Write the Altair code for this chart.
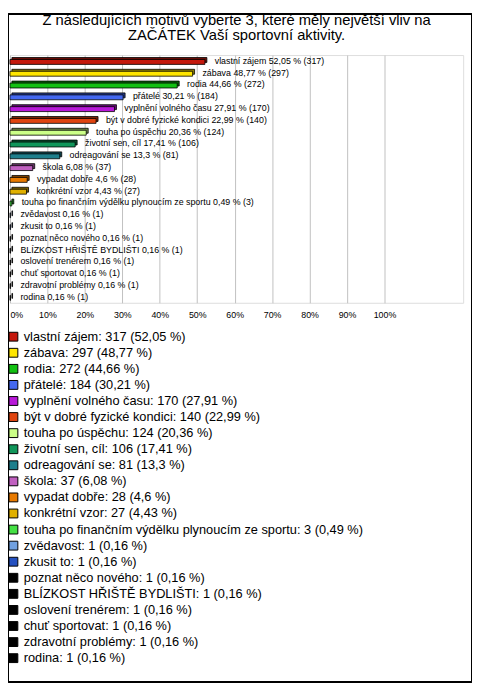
import altair as alt
import pandas as pd

# ---- data ----
categories = [
    "vlastní zájem", "zábava", "rodia", "přátelé", "vyplnění volného času",
    "být v dobré fyzické kondici", "touha po úspěchu", "životní sen, cíl",
    "odreagování se", "škola", "vypadat dobře", "konkrétní vzor",
    "touha po finančním výdělku plynoucím ze sportu", "zvědavost", "zkusit to",
    "poznat něco nového", "BLÍZKOST HŘIŠTĚ BYDLIŠTI", "oslovení trenérem",
    "chuť sportovat", "zdravotní problémy", "rodina",
]
counts = [317, 297, 272, 184, 170, 140, 124, 106, 81, 37, 28, 27, 3, 1, 1, 1, 1, 1, 1, 1, 1]
percents = [52.05, 48.77, 44.66, 30.21, 27.91, 22.99, 20.36, 17.41, 13.3, 6.08, 4.6, 4.43,
            0.49, 0.16, 0.16, 0.16, 0.16, 0.16, 0.16, 0.16, 0.16]
colors = [
    "#c4180c", "#ffe600", "#12c012", "#4468f0", "#b818d8", "#e04410", "#ccff88",
    "#10965a", "#1e7f8c", "#c060c0", "#e87a00", "#e0b000", "#44e044", "#70a0e0",
    "#2450c0", "#000000", "#000000", "#000000", "#000000", "#000000", "#000000",
]
x_ticks = [0, 10, 20, 30, 40, 50, 60, 70, 80, 90, 100]
title_lines = [
    "Z následujících motivů vyberte 3, které měly největší vliv na",
    "ZAČÁTEK Vaší sportovní aktivity.",
]


def darker(hex_color, f=0.55):
    h = hex_color.lstrip("#")
    r, g, b = (int(h[i:i + 2], 16) for i in (0, 2, 4))
    return "#{:02x}{:02x}{:02x}".format(int(r * f), int(g * f), int(b * f))


pct_str = [str(p).replace(".", ",") for p in percents]
df = pd.DataFrame({
    "cat": categories,
    "count": counts,
    "pct": percents,
    "bar_label": [f"{c} {p} % ({n})" for c, p, n in zip(categories, pct_str, counts)],
    "legend_label": [f"{c}: {n} ({p} %)" for c, p, n in zip(categories, pct_str, counts)],
    "dark": [darker(c) for c in colors],
})
legend_labels = list(df["legend_label"])

FONT = "Liberation Sans"

x_enc = alt.X(
    "pct:Q",
    scale=alt.Scale(domain=[0, 121], nice=False, zero=True),
    axis=alt.Axis(
        values=x_ticks, title=None, grid=True, gridColor="#c0c0c0", gridWidth=1,
        domain=False, ticks=False, labelPadding=8, labelFontSize=9, labelFont=FONT,
        labelColor="#000", labelExpr="datum.value + '%'", labelFlush=True,
    ),
)
y_enc = alt.Y("cat:N", sort=categories, axis=None,
              scale=alt.Scale(paddingInner=0, paddingOuter=0))

depth = alt.Chart(df).mark_bar(size=5, xOffset=2, yOffset=-1, stroke="#000",
                               strokeWidth=0.8).encode(
    x=x_enc, y=y_enc, fill=alt.Fill("dark:N", scale=None, legend=None)
)

front = alt.Chart(df).mark_bar(size=5, yOffset=1, stroke="#000", strokeWidth=0.8).encode(
    x=x_enc, y=y_enc,
    color=alt.Color(
        "legend_label:N",
        scale=alt.Scale(domain=legend_labels, range=colors),
        legend=alt.Legend(
            title=None, orient="none", legendX=-3, legendY=280, direction="vertical",
            symbolType="square", symbolSize=81, symbolStrokeColor="#000",
            symbolStrokeWidth=1, symbolOpacity=1, labelFontSize=13, labelFont=FONT,
            labelColor="#000", labelLimit=0, rowPadding=2.35, padding=0, labelOffset=4,
        ),
    ),
)

labels = alt.Chart(df).mark_text(align="left", baseline="middle", dx=10, fontSize=9,
                                 font=FONT, color="#000").encode(
    x=alt.X("pct:Q"), y=alt.Y("cat:N", sort=categories), text="bar_label:N"
)

frame = alt.Chart(df).mark_rect(fillOpacity=0, stroke="#000", strokeWidth=1).encode(
    x=alt.value(-1.5), x2=alt.value(469.5), y=alt.value(-41.5), y2=alt.value(637.5)
)

chart = alt.layer(depth, front, labels, frame).properties(
    width=461,
    height=252,
    title=alt.TitleParams(text=title_lines, fontSize=15, font=FONT, fontWeight="normal",
                          color="#000", lineHeight=15, anchor="middle", frame="group",
                          offset=0, dy=29.5),
    autosize=alt.AutoSizeParams(type="none"),
    padding={"left": 2, "top": 42, "right": 9, "bottom": 386},
).configure_view(stroke="#000", strokeWidth=1).configure(background="white")

chart.save("out.html", embed_options={"renderer": "svg", "actions": False})
